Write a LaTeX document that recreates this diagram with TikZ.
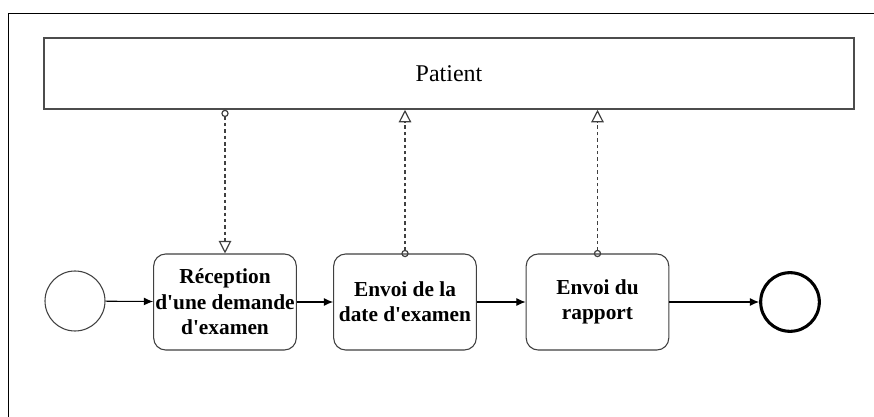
\documentclass[tikz,border=0pt]{standalone}
\usepackage{fontspec}
\setmainfont{Liberation Serif}
\usetikzlibrary{arrows.meta}

\begin{document}
\begin{tikzpicture}[x=0.75pt,y=-0.75pt,
    tache/.style={draw=black!75, line width=0.8pt, rounded corners=9pt, fill=white,
        minimum width=107pt, minimum height=72pt, inner sep=0pt, align=center,
        font=\bfseries\fontsize{16}{19}\selectfont},
    flux/.style={draw=black, line width=0.8pt, -{Latex[length=7pt,width=6pt]}},
    msg/.style={draw=black!75, line width=0.9pt, dash pattern=on 2.6pt off 2.2pt,
        {Circle[open,length=5.5pt,width=5.5pt]}-{Triangle[open,length=9.5pt,width=9.5pt]}}]
    \useasboundingbox (0,0) rectangle (874,417);
    \draw[line width=1.1pt] (8.5,417) -- (8.5,13.5) -- (874,13.5);
    \node[draw=black!70, line width=1.4pt, minimum width=607pt, minimum height=53pt,
        font=\fontsize{18}{20}\selectfont] (patient) at (449,73.5) {Patient};
    \node[draw=black!75, line width=0.8pt, circle, minimum size=45pt, inner sep=0pt] (debut) at (75,301) {};
    \node[tache] (reception) at (225,302) {Réception\\d\textquotesingle une demande\\d\textquotesingle examen};
    \node[tache] (envoidate) at (405,302) {Envoi de la\\date d\textquotesingle examen};
    \node[tache] (envoirapport) at (597.5,302) {Envoi du\\rapport};
    \node[draw=black, line width=2.3pt, circle, minimum size=44pt, inner sep=0pt] (fin) at (790,302) {};
    \draw[flux] (debut) -- (reception);
    \draw[flux] (reception) -- (envoidate);
    \draw[flux] (envoidate) -- (envoirapport);
    \draw[flux] (envoirapport) -- (fin);
    \draw[msg] (reception.north |- patient.south) -- (reception.north);
    \draw[msg] ([yshift=-2.8pt]envoidate.north) -- (envoidate.north |- patient.south);
    \draw[msg] ([yshift=-2.8pt]envoirapport.north) -- (envoirapport.north |- patient.south);
\end{tikzpicture}
\end{document}
